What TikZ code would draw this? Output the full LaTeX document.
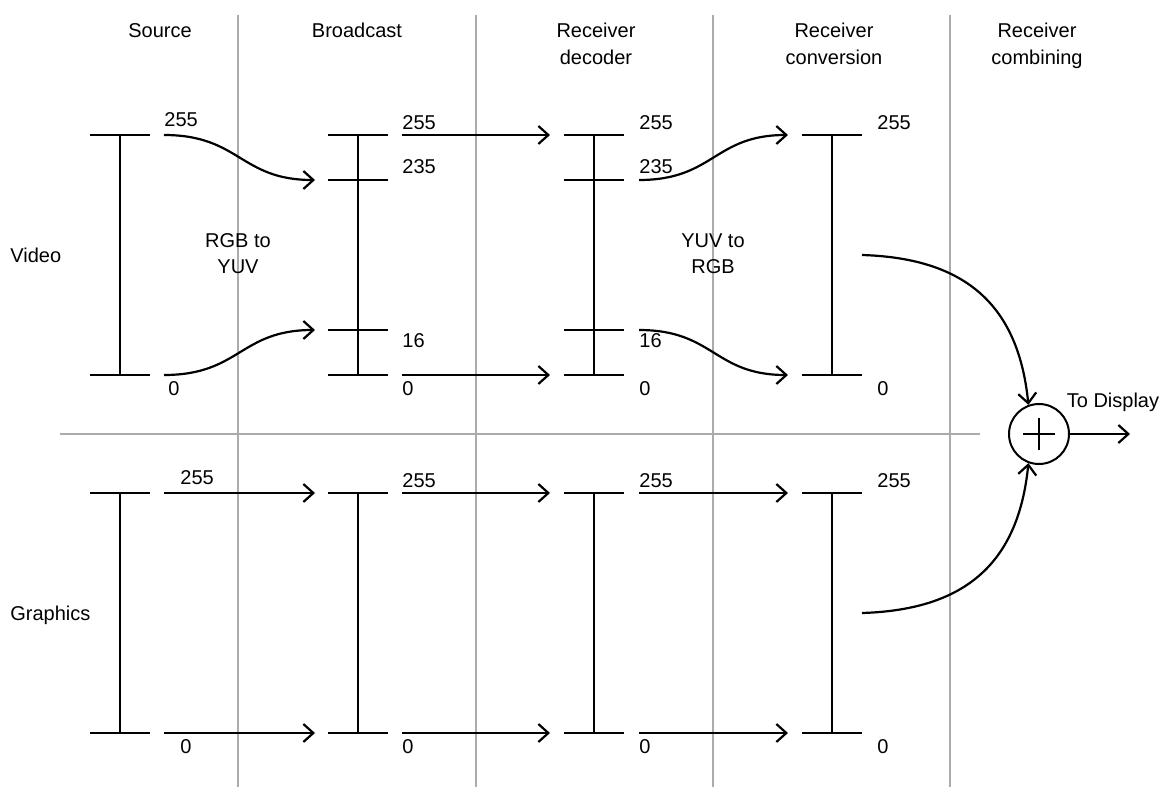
\documentclass[tikz,border=0pt]{standalone}
\usepackage{fontspec}
\setmainfont{Liberation Sans}
\usetikzlibrary{arrows.meta}

\begin{document}
\begin{tikzpicture}[x=0.5pt,y=-0.5pt,
		bar/.style={line width=1.3pt},
		arr/.style={line width=1.1pt,-{Straight Barb[length=5pt,width=9pt,line width=1.1pt]}},
		sep/.style={line width=1pt,draw=black!33},
		lbl/.style={inner sep=0pt,font=\fontsize{10}{13}\selectfont},
		head/.style={inner sep=0pt,anchor=north,align=center,font=\fontsize{10}{13.5}\selectfont}]
	\useasboundingbox (0,0) rectangle (1163,787);
	\foreach \x in {238,476,713,950}
		\draw[sep] (\x,15) -- (\x,787);
	\draw[sep] (60,434) -- (980,434);
	\foreach \x in {120,358,594,832} {
		\draw[bar] (\x-30,135) -- (\x+30,135) (\x,135) -- (\x,375) (\x-30,375) -- (\x+30,375);
		\draw[bar] (\x-30,493) -- (\x+30,493) (\x,493) -- (\x,733) (\x-30,733) -- (\x+30,733);
	}
	\foreach \x in {358,594}
		\draw[bar] (\x-30,180) -- (\x+30,180) (\x-30,330) -- (\x+30,330);
	\coordinate (S1) at (164,135);
	\coordinate (S2) at (315,180);
	\coordinate (T1) at (164,375);
	\coordinate (T2) at (315,330);
	\coordinate (U1) at (402,135);
	\coordinate (U2) at (550,135);
	\coordinate (V1) at (402,375);
	\coordinate (V2) at (550,375);
	\coordinate (W1) at (639,180);
	\coordinate (W2) at (788,135);
	\coordinate (X1) at (639,330);
	\coordinate (X2) at (788,375);
	\coordinate (Y1) at (862,255);
	\coordinate (Z1) at (862,613);
	\coordinate (disp) at (1130,434);
	\draw[arr] (S1) .. controls (240,135) and (240,180) .. (S2);
	\draw[arr] (T1) .. controls (240,375) and (240,330) .. (T2);
	\draw[arr] (U1) -- (U2);
	\draw[arr] (V1) -- (V2);
	\draw[arr] (W1) .. controls (714,180) and (714,135) .. (W2);
	\draw[arr] (X1) .. controls (714,330) and (714,375) .. (X2);
	\foreach \i/\a/\b in {1/164/315,2/402/550,3/639/788} {
		\coordinate (G\i a) at (\a,493);
		\coordinate (G\i b) at (\b,493);
		\coordinate (H\i a) at (\a,733);
		\coordinate (H\i b) at (\b,733);
		\draw[arr] (G\i a) -- (G\i b);
		\draw[arr] (H\i a) -- (H\i b);
	}
	\node[draw,circle,line width=1pt,minimum size=30pt,inner sep=0pt] (sum) at (1039,434) {};
	\draw[line width=1pt] ([xshift=-8pt]sum.center) -- ([xshift=8pt]sum.center) ([yshift=-8pt]sum.center) -- ([yshift=8pt]sum.center);
	\draw[arr] (Y1) .. controls (960,258) and (1018,300) .. (sum.110);
	\draw[arr] (Z1) .. controls (960,610) and (1018,568) .. (sum.250);
	\draw[arr] (sum) -- (disp);
	\node[lbl] (todisp) at (1113,402) {To Display};
	\node[head] (hsrc) at (160,23) {Source};
	\node[head] (hbc) at (357,23) {Broadcast};
	\node[head] (hdec) at (596,23) {Receiver\\decoder};
	\node[head] (hcnv) at (834,23) {Receiver\\conversion};
	\node[head] (hcmb) at (1037,23) {Receiver\\combining};
	\node[lbl,align=center] (rgbyuv) at (238,254) {RGB to\\YUV};
	\node[lbl,align=center] (yuvrgb) at (713,254) {YUV to\\RGB};
	\node[lbl,anchor=base west] (video) at (10,262) {Video};
	\node[lbl,anchor=base west] (graphics) at (10,620) {Graphics};
	\node[lbl,anchor=base west] (vs255) at (164,126) {255};
	\node[lbl,anchor=base west] (vs0) at (168,395) {0};
	\node[lbl,anchor=base west] (vb255) at (402,129) {255};
	\node[lbl,anchor=base west] (vb235) at (402,173) {235};
	\node[lbl,anchor=base west] (vb16) at (402,347) {16};
	\node[lbl,anchor=base west] (vb0) at (402,395) {0};
	\node[lbl,anchor=base west] (vd255) at (639,129) {255};
	\node[lbl,anchor=base west] (vd235) at (639,173) {235};
	\node[lbl,anchor=base west] (vd16) at (639,347) {16};
	\node[lbl,anchor=base west] (vd0) at (639,395) {0};
	\node[lbl,anchor=base west] (vc255) at (877,129) {255};
	\node[lbl,anchor=base west] (vc0) at (877,395) {0};
	\node[lbl,anchor=base west] (gs255) at (180,484) {255};
	\node[lbl,anchor=base west] (gs0) at (180,753) {0};
	\node[lbl,anchor=base west] (gb255) at (402,487) {255};
	\node[lbl,anchor=base west] (gb0) at (402,753) {0};
	\node[lbl,anchor=base west] (gd255) at (639,487) {255};
	\node[lbl,anchor=base west] (gd0) at (639,753) {0};
	\node[lbl,anchor=base west] (gc255) at (877,487) {255};
	\node[lbl,anchor=base west] (gc0) at (877,753) {0};
\end{tikzpicture}
\end{document}
